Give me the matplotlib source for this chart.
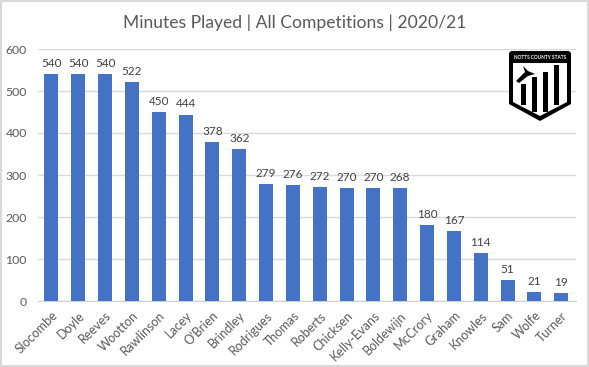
import matplotlib.pyplot as plt
from matplotlib.patches import Polygon, Rectangle

plt.rcParams['font.family'] = ['Lato', 'DejaVu Sans']

players = ['Slocombe', 'Doyle', 'Reeves', 'Wootton', 'Rawlinson', 'Lacey', "O'Brien",
           'Brindley', 'Rodrigues', 'Thomas', 'Roberts', 'Chicksen', 'Kelly-Evans',
           'Boldewijn', 'McCrory', 'Graham', 'Knowles', 'Sam', 'Wolfe', 'Turner']
minutes = [540, 540, 540, 522, 450, 444, 378, 362, 279, 276, 272, 270, 270, 268,
           180, 167, 114, 51, 21, 19]
yticks = [0, 100, 200, 300, 400, 500, 600]

W, H = 589, 367
fig = plt.figure(figsize=(W / 100, H / 100), dpi=100)
ax = fig.add_axes([38 / W, 1 - 301 / H, 538 / W, 252 / H])

ax.bar(range(len(players)), minutes, width=0.52, color='#4472C4', zorder=3)
for i, v in enumerate(minutes):
    ax.text(i, v + 12, str(v), ha='center', va='bottom', fontsize=8.5, color='#404040')

ax.set_xlim(-0.5, len(players) - 0.45)
ax.set_ylim(0, 600)
ax.set_yticks(yticks)
ax.set_xticks(range(len(players)))
ax.set_xticklabels(players, rotation=45, ha='right', rotation_mode='anchor',
                   fontsize=9, color='#595959')
ax.tick_params(axis='y', length=0, labelsize=8.8, labelcolor='#595959', pad=8)
ax.tick_params(axis='x', length=0, pad=6)
ax.grid(axis='y', color='#D9D9D9', linewidth=1, zorder=0)
for s in ['top', 'right', 'left']:
    ax.spines[s].set_visible(False)
ax.spines['bottom'].set_color('#D0D0D0')

fig.text(295 / W, 1 - 23 / H, 'Minutes Played | All Competitions | 2020/21',
         ha='center', va='center', fontsize=12.6, color='#595959')

# overlay in pixel coords for the logo and chart border
ov = fig.add_axes([0, 0, 1, 1], facecolor='none')
ov.set_xlim(0, W)
ov.set_ylim(H, 0)
ov.axis('off')
ov.add_patch(Rectangle((0.5, 0.5), W - 1.5, H - 1.5, fill=False, ec='#D9D9D9', lw=1.5))

ov.add_patch(Polygon([(511, 51), (569, 51), (571, 53), (571, 104), (540, 121),
                      (509, 104), (509, 53)], fc='black', ec='none'))
ov.add_patch(Polygon([(513, 63), (567, 63), (567, 102), (540, 116), (513, 102)],
                     fc='white', ec='none'))
for x0, top, bottom in [(521, 84, 105), (532, 77, 112), (543, 72, 112), (554, 65, 105)]:
    ov.add_patch(Rectangle((x0, top), 5, bottom - top, fc='black', ec='none'))
# bird on the crest
ov.add_patch(Polygon([(516, 81), (525, 72), (523, 66), (528, 71), (535, 74), (528, 76),
                      (519, 83)], fc='black', ec='none'))
ov.text(540, 57.5, 'NOTTS COUNTY STATS', ha='center', va='center', fontsize=3.4,
        fontweight='bold', color='white')

fig.savefig('out.png', dpi=100)
